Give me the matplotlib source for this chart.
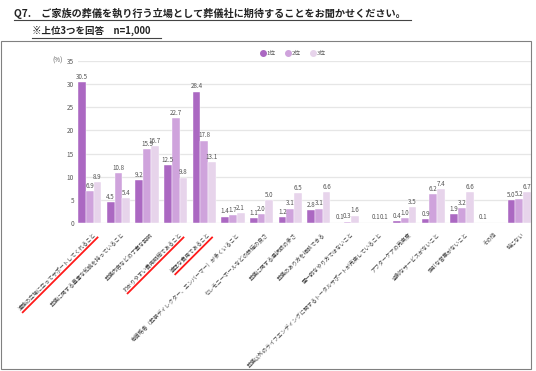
import matplotlib.pyplot as plt
import numpy as np
from matplotlib.lines import Line2D
from matplotlib.patches import Rectangle

plt.rcParams['font.family'] = ['Noto Sans CJK JP', 'DejaVu Sans']

W, H = 536, 371

KATEGORIAT = [
    "遺族の立場に立ってサポートしてくれること",
    "葬儀に関する豊富な知識を持っていること",
    "葬儀内容などの丁寧な説明",
    "わかりやすい費用明細であること",
    "適正な費用であること",
    "有資格者（葬祭ディレクター、エンバーマー）が多くいること",
    "セレモニーホールなどの設備の良さ",
    "葬儀に関する選択肢の多さ",
    "葬儀のあり方を相談できる",
    "画一的なやり方ではないこと",
    "葬儀以外のライフエンディングに関するトータルサポートが充実していること",
    "アフターケアの充実度",
    "過剰なサービスがないこと",
    "強引な営業がないこと",
    "その他",
    "特にない",
]
SARJAT = ["1位", "2位", "3位"]
ARVOT_1 = [30.5, 4.5, 9.2, 12.5, 28.4, 1.4, 1.1, 1.2, 2.8, 0.1, 0.0, 0.4, 0.9, 1.9, 0.1, 5.0]
ARVOT_2 = [6.9, 10.8, 15.9, 22.7, 17.8, 1.7, 2.0, 3.1, 3.1, 0.3, 0.1, 1.0, 6.2, 3.2, 0.0, 5.2]
ARVOT_3 = [8.9, 5.4, 16.7, 9.8, 13.1, 2.1, 5.0, 6.5, 6.6, 1.6, 0.1, 3.5, 7.4, 6.6, 0.0, 6.7]
KOROSTETUT = [0, 3, 4]
VARIT = ["#ab68c2", "#cfa3dc", "#e7d4eb"]


def px(x, y):
    return x / W, 1 - y / H


fig = plt.figure(figsize=(W / 100, H / 100), dpi=100)

# ulompi kehys
x0, y0 = px(1, 369)
x1, y1 = px(531, 41)
fig.patches.append(Rectangle((x0, y0), x1 - x0, y1 - y0, transform=fig.transFigure,
                             fill=False, edgecolor="#808080", linewidth=0.8))

# otsikot
tx, ty = px(14, 13)
fig.text(tx, ty, "Q7.　ご家族の葬儀を執り行う立場として葬儀社に期待することをお聞かせください。",
         fontsize=7.3, fontweight="bold", color="#222222", va="center", ha="left")
fig.add_artist(Line2D([px(14, 0)[0], px(411, 0)[0]], [px(0, 20)[1]] * 2,
                      transform=fig.transFigure, color="#444444", linewidth=0.8))
tx, ty = px(32, 31)
fig.text(tx, ty, "※上位3つを回答　n=1,000", fontsize=6.8, fontweight="bold",
         color="#222222", va="center", ha="left")
fig.add_artist(Line2D([px(32, 0)[0], px(161, 0)[0]], [px(0, 38)[1]] * 2,
                      transform=fig.transFigure, color="#444444", linewidth=0.8))

l, b = px(78, 223)
r, t = px(531, 61)
ax = fig.add_axes([l, b, r - l, t - b])

x = np.arange(len(KATEGORIAT))
lev = 0.27
for j, arvot in enumerate([ARVOT_1, ARVOT_2, ARVOT_3]):
    pos = x + (j - 1) * lev
    ax.bar(pos, arvot, lev, color=VARIT[j], edgecolor="white", linewidth=0.3,
           zorder=3)
    for xi, v in zip(pos, arvot):
        if v > 0:
            ax.text(xi, v + 0.25, f"{v:.1f}", ha="center", va="bottom",
                    fontsize=4.5, color="#555555", zorder=4)

ax.set_xlim(-0.41, len(KATEGORIAT) - 0.59)
ax.set_ylim(0, 35)
ax.set_yticks(np.arange(0, 36, 5))
ax.set_yticklabels([str(v) for v in range(0, 36, 5)], fontsize=4.6, color="#595959")
ax.grid(axis="y", color="#e6e6e6", linewidth=0.9, zorder=0)
ax.set_axisbelow(True)
for s in ax.spines.values():
    s.set_visible(False)
ax.tick_params(length=0, pad=3)
ax.set_xticks(x + 0.1)
ax.set_xticklabels(KATEGORIAT, rotation=45, ha="right", va="top",
                   rotation_mode="anchor", fontsize=3.9, color="#404040")
ax.tick_params(axis="x", pad=6)

fig.text(*px(52, 61), "(%)", fontsize=4.6, color="#595959", va="center", ha="left")

# selite: ympyrät
kahvat = [Line2D([], [], marker="o", linestyle="none", markersize=4,
                 markerfacecolor=c, markeredgecolor=c) for c in VARIT]
ax.legend(kahvat, SARJAT, loc="upper center", bbox_to_anchor=(0.475, 1.0 + 15 / 162),
          ncol=3, frameon=False, fontsize=4.2, handlelength=0.8,
          columnspacing=1.6, handletextpad=0.3, labelcolor="#595959")

# punaiset alleviivaukset
fig.canvas.draw()
rend = fig.canvas.get_renderer()
tl = ax.get_xticklabels()
for i in KOROSTETUT:
    bb = tl[i].get_window_extent(rend)
    h_proj = 4.0
    xs = [bb.x0 + h_proj + 1.5, bb.x1 + 1.5]
    ys = [bb.y0 - 1.5, bb.y1 - h_proj - 1.5]
    xs = [v / W for v in xs]
    ys = [v / H for v in ys]
    fig.add_artist(Line2D(xs, ys, transform=fig.transFigure, color="#ff1a1a",
                          linewidth=1.3, solid_capstyle="butt"))

fig.savefig("out.png", dpi=100)
